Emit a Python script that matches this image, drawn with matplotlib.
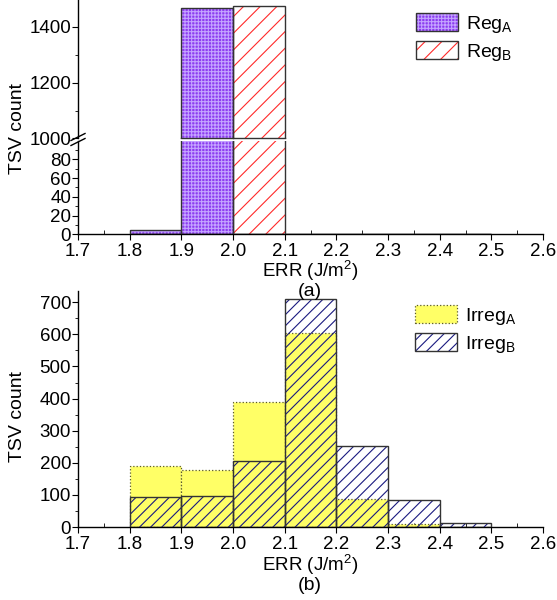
import numpy as np
import matplotlib
matplotlib.use('Agg')
import matplotlib.pyplot as plt
from matplotlib.patches import Patch
from matplotlib.lines import Line2D
from matplotlib.ticker import MultipleLocator, FixedLocator

plt.rcParams['font.family'] = ['Liberation Sans', 'DejaVu Sans']
plt.rcParams['mathtext.fontset'] = 'custom'
plt.rcParams['mathtext.rm'] = 'Liberation Sans'
plt.rcParams['hatch.linewidth'] = 0.8
plt.rcParams['axes.linewidth'] = 1.0

# histogram bins (left edges), width 0.1 J/m^2
bins = [1.8, 1.9, 2.0, 2.1, 2.2, 2.3, 2.4]
width = 0.1

# (a) regular TSV arrays
reg_a = [5, 1467, 0, 0, 0, 0, 0]
reg_b = [0, 0, 1474, 0, 0, 0, 0]

# (b) irregular TSV arrays
irreg_a = [191, 177, 390, 605, 87, 8, 0]
irreg_b = [94, 97, 205, 711, 252, 84, 11]

xticks = [1.7, 1.8, 1.9, 2.0, 2.1, 2.2, 2.3, 2.4, 2.5, 2.6]

W, H = 557, 600
fig = plt.figure(figsize=(W / 100, H / 100), dpi=100)

def px_axes(x0, y0, x1, y1):
    # pixel box (top-left origin) -> axes
    return fig.add_axes([x0 / W, 1 - y1 / H, (x1 - x0) / W, (y1 - y0) / H])

ax_hi = px_axes(78, 0, 543, 138.5)
ax_lo = px_axes(78, 140.5, 543, 234.3)
ax_b = px_axes(78, 291, 543, 527)

purple = '#8c3cf0'
edge = '#333333'
tick_fs = 13.5
fs = 14
hi_min = 1000

def draw_reg(ax):
    bars_x = np.array(bins)
    ax.bar(bars_x, reg_a, width=width, align='edge', color=purple,
           edgecolor='#c4a4ff', hatch='+++++', linewidth=0, zorder=2)
    ax.bar(bars_x, reg_a, width=width, align='edge', fill=False,
           edgecolor=edge, linewidth=1.0, zorder=3)
    ax.bar(bars_x, reg_b, width=width, align='edge', color='white',
           edgecolor='#ff2a2a', hatch='//', linewidth=0, zorder=2)
    ax.bar(bars_x, reg_b, width=width, align='edge', fill=False,
           edgecolor=edge, linewidth=1.0, zorder=3)

for ax in (ax_hi, ax_lo, ax_b):
    ax.set_xlim(1.7, 2.6)
    ax.spines['top'].set_visible(False)
    ax.spines['right'].set_visible(False)
    ax.tick_params(axis='y', which='major', direction='out', length=4,
                   labelsize=tick_fs, pad=1)
    ax.tick_params(axis='y', which='minor', direction='out', length=2.5)
    ax.tick_params(axis='x', which='major', direction='out', length=4,
                   labelsize=tick_fs, pad=2.5)
    ax.tick_params(axis='x', which='minor', direction='in', length=3)

draw_reg(ax_hi)
draw_reg(ax_lo)

# bottom edge of the bars that continue into the upper section
for x, a, b in zip(bins, reg_a, reg_b):
    if max(a, b) > hi_min:
        ax_hi.plot([x, x + width], [hi_min, hi_min], color=edge, lw=1.0,
                   clip_on=False, zorder=4)

ax_hi.set_ylim(hi_min, 1495)
ax_hi.spines['bottom'].set_visible(False)
ax_hi.tick_params(axis='x', which='both', bottom=False, labelbottom=False)
ax_hi.yaxis.set_major_locator(FixedLocator([1000, 1200, 1400]))
ax_hi.yaxis.set_minor_locator(FixedLocator([1100, 1300]))

ax_lo.set_ylim(0, 100)
ax_lo.yaxis.set_major_locator(FixedLocator([0, 20, 40, 60, 80]))
ax_lo.yaxis.set_minor_locator(FixedLocator([10, 30, 50, 70, 90]))

for ax in (ax_lo, ax_b):
    ax.xaxis.set_major_locator(FixedLocator(xticks))
    ax.set_xticklabels(['%.1f' % t for t in xticks])
    ax.xaxis.set_minor_locator(MultipleLocator(0.05))

# (b) irregular arrays
xb = np.array(bins)
ax_b.bar(xb, irreg_a, width=width, align='edge', color='#ffff66',
         edgecolor='#5a5a2a', linestyle=':', linewidth=0.9, zorder=2)
ax_b.bar(xb, irreg_b, width=width, align='edge', fill=False,
         edgecolor='#1a1a80', hatch='///', linewidth=0, zorder=3)
ax_b.bar(xb, irreg_b, width=width, align='edge', fill=False,
         edgecolor=edge, linewidth=1.0, zorder=4)
ax_b.set_ylim(0, 735)
ax_b.yaxis.set_major_locator(MultipleLocator(100))
ax_b.yaxis.set_minor_locator(MultipleLocator(50))

# axis break marks on the left spine
for dy in (-2.5, 2.5):
    yc = 139.5 + dy
    fig.add_artist(Line2D([71 / W, 85 / W], [1 - (yc + 3.5) / H, 1 - (yc - 3.5) / H],
                          color='black', linewidth=1.0))

# labels
fig.text(18 / W, 1 - 129 / H, 'TSV count', rotation=90, ha='center', va='center', fontsize=fs)
fig.text(18 / W, 1 - 416 / H, 'TSV count', rotation=90, ha='center', va='center', fontsize=fs)
fig.text(310 / W, 1 - 271 / H, r'ERR (J/m$^\mathregular{2}$)', ha='center', va='center', fontsize=13.5)
fig.text(310 / W, 1 - 291 / H, '(a)', ha='center', va='center', fontsize=fs)
fig.text(310 / W, 1 - 565 / H, r'ERR (J/m$^\mathregular{2}$)', ha='center', va='center', fontsize=13.5)
fig.text(310 / W, 1 - 585 / H, '(b)', ha='center', va='center', fontsize=fs)

# legends
h_rega = (Patch(facecolor=purple, edgecolor='#c4a4ff', hatch='+++++', linewidth=0),
          Patch(fill=False, edgecolor=edge, linewidth=1.0))
h_regb = (Patch(facecolor='white', edgecolor='#ff2a2a', hatch='//', linewidth=0),
          Patch(fill=False, edgecolor=edge, linewidth=1.0))
fig.legend([h_rega, h_regb], [r'Reg$_\mathregular{A}$', r'Reg$_\mathregular{B}$'],
           loc='upper left', bbox_to_anchor=(416 / W, 1 - 13 / H), frameon=False,
           borderpad=0, borderaxespad=0, handlelength=2.16, handleheight=1.03,
           handletextpad=0.4, labelspacing=0.35, fontsize=fs)

h_ia = Patch(facecolor='#ffff66', edgecolor='#5a5a2a', linestyle=':', linewidth=0.9)
h_ib = (Patch(fill=False, edgecolor='#1a1a80', hatch='///', linewidth=0),
        Patch(fill=False, edgecolor=edge, linewidth=1.0))
fig.legend([h_ia, h_ib], [r'Irreg$_\mathregular{A}$', r'Irreg$_\mathregular{B}$'],
           loc='upper left', bbox_to_anchor=(415 / W, 1 - 305 / H), frameon=False,
           borderpad=0, borderaxespad=0, handlelength=2.16, handleheight=1.03,
           handletextpad=0.4, labelspacing=0.35, fontsize=fs)

fig.savefig('out.png', dpi=100)
